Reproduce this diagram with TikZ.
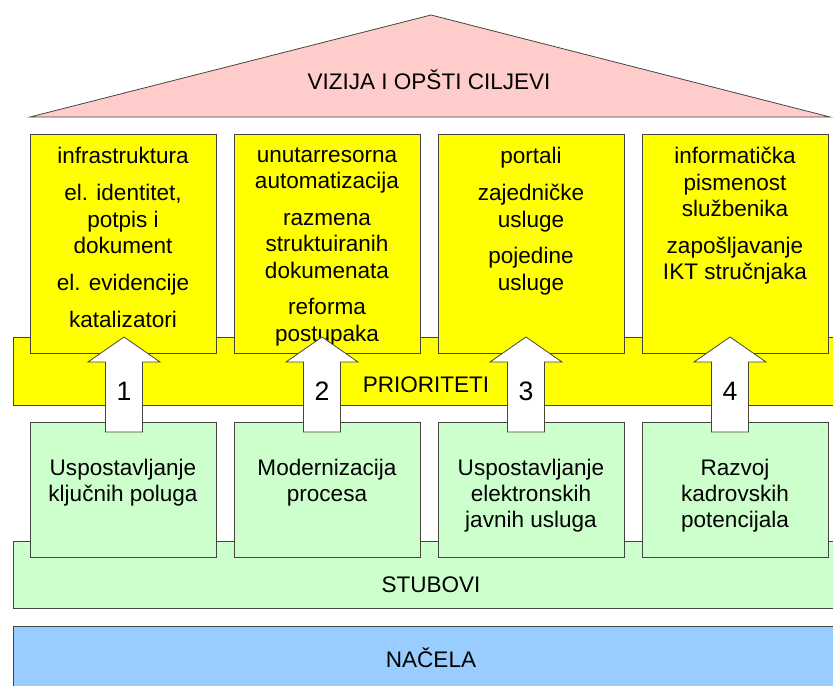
\documentclass[tikz,border=0pt]{standalone}
\usepackage{fontspec}
\setmainfont{Liberation Sans}
\usepackage{xcolor}
\definecolor{Color1}{RGB}{255,204,204}
\definecolor{Color2}{RGB}{255,255,0}
\definecolor{Color3}{RGB}{204,255,204}
\definecolor{Color4}{RGB}{153,204,255}
\definecolor{Edge}{RGB}{70,70,60}
\usetikzlibrary{shapes,positioning}
\tikzstyle{block} = [rectangle, draw=Edge, line width=0.6pt,
    minimum width=139.5pt, inner sep=0pt]
\tikzstyle{band} = [rectangle, draw=Edge, line width=0.6pt,
    minimum width=630pt, inner sep=0pt]
\tikzstyle{txt} = [align=center, inner sep=0pt,
    font=\fontsize{16.9}{19.5}\selectfont]
\tikzstyle{list} = [txt, font=\fontsize{16.9}{19.8}\selectfont]
\tikzstyle{num} = [inner sep=0pt, font=\fontsize{20}{24}\selectfont]
\tikzstyle{uparrow} = [draw=Edge, fill=white, line width=0.6pt]

\begin{document}
\begin{tikzpicture}[x=0.75pt, y=-0.75pt]
  \clip (0,0) rectangle (833,686);
  %
  \draw [draw=Edge, line width=0.6pt, fill=Color1] (30,117) -- (431,15) -- (830,117) -- cycle;
  \node [txt] (Vizija) at (429,80) {VIZIJA I OPŠTI CILJEVI};
  %
  \node [band, fill=Color2, minimum height=51pt, anchor=north west] (Prio) at (13,337) {};
  \node [block, fill=Color2, minimum height=164.25pt] (P1) at (123,243.5) {};
  \node [block, fill=Color2, minimum height=164.25pt] (P2) at (327,243.5) {};
  \node [block, fill=Color2, minimum height=164.25pt] (P3) at (531,243.5) {};
  \node [block, fill=Color2, minimum height=164.25pt] (P4) at (735,243.5) {};
  \node [txt] (PrioText) at (426,385) {PRIORITETI};
  %
  \node [list, below=10.25pt of P1.north] (T1) {infrastruktura\\[7.8pt] el. identitet,\\ potpis i\\ dokument\\[7.8pt] el. evidencije\\[7.8pt] katalizatori};
  \node [list, below=10.25pt of P2.north] (T2) {unutarresorna\\ automatizacija\\[7.8pt] razmena\\ struktuiranih\\ dokumenata\\[7.8pt] reforma\\ postupaka};
  \node [list, below=10.25pt of P3.north] (T3) {portali\\[7.8pt] zajedničke\\ usluge\\[7.8pt] pojedine\\ usluge};
  \node [list, below=10.25pt of P4.north] (T4) {informatička\\ pismenost\\ službenika\\[7.8pt] zapošljavanje\\ IKT stručnjaka};
  %
  \node [band, fill=Color3, minimum height=50.25pt, anchor=north west] (Stub) at (13,541) {};
  \node [block, fill=Color3, minimum height=101.25pt] (G1) at (123,489.5) {};
  \node [block, fill=Color3, minimum height=101.25pt] (G2) at (327,489.5) {};
  \node [block, fill=Color3, minimum height=101.25pt] (G3) at (531,489.5) {};
  \node [block, fill=Color3, minimum height=101.25pt] (G4) at (735,489.5) {};
  \node [txt] (StubText) at (431,585) {STUBOVI};
  %
  \node [txt, below=28.25pt of G1.north] (S1) {Uspostavljanje\\ ključnih poluga};
  \node [txt, below=28.25pt of G2.north] (S2) {Modernizacija\\ procesa};
  \node [txt, below=28.25pt of G3.north] (S3) {Uspostavljanje\\ elektronskih\\ javnih usluga};
  \node [txt, below=28.25pt of G4.north] (S4) {Razvoj\\ kadrovskih\\ potencijala};
  %
  \node [band, fill=Color4, minimum height=60pt, anchor=north west] (Nacela) at (13,626) {};
  \node [txt] (NacelaText) at (431,658) {NAČELA};
  %
  \foreach \x/\n in {124/1, 322/2, 526/3, 730/4} {
    \draw [uparrow] (\x-18.5,432) -- (\x-18.5,362) -- (\x-36,362) -- (\x,337)
      -- (\x+36,362) -- (\x+18.5,362) -- (\x+18.5,432) -- cycle;
    \node [num] (N\n) at (\x,391) {\n};
  }
\end{tikzpicture}
\end{document}
